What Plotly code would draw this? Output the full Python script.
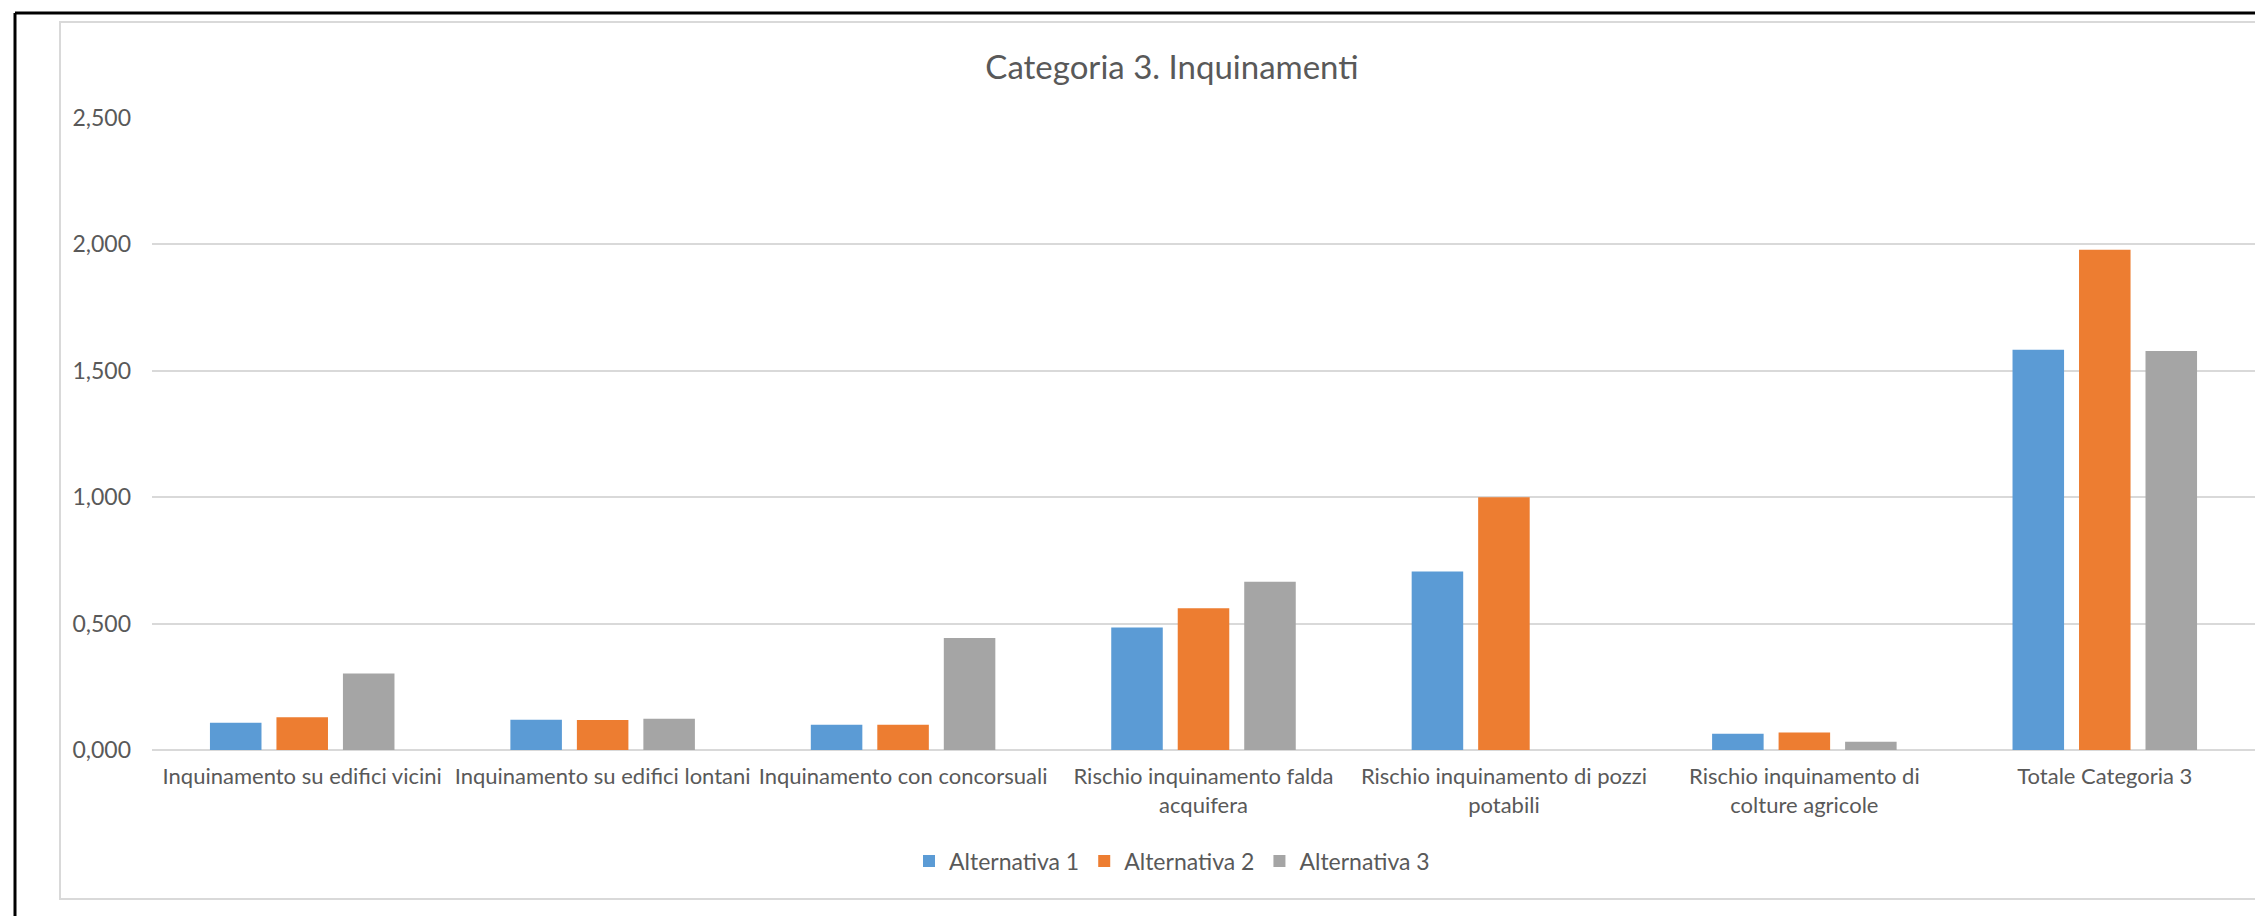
import plotly.graph_objects as go

categories = [
    "Inquinamento su edifici vicini",
    "Inquinamento su edifici lontani",
    "Inquinamento con concorsuali",
    "Rischio inquinamento falda<br>acquifera",
    "Rischio inquinamento di pozzi<br>potabili",
    "Rischio inquinamento di<br>colture agricole",
    "Totale Categoria 3",
]
series_names = ["Alternativa 1", "Alternativa 2", "Alternativa 3"]
alt1 = [0.108, 0.120, 0.100, 0.485, 0.706, 0.064, 1.583]
alt2 = [0.130, 0.119, 0.100, 0.561, 1.000, 0.069, 1.979]
alt3 = [0.303, 0.124, 0.443, 0.666, 0.000, 0.033, 1.578]
y_tickvals = [0, 0.5, 1.0, 1.5, 2.0, 2.5]
y_ticktext = ["0,000", "0,500", "1,000", "1,500", "2,000", "2,500"]
title_text = "Categoria 3. Inquinamenti"

colors = ["#5B9BD5", "#ED7D31", "#A5A5A5"]
FONT = "Lato, 'Open Sans', sans-serif"
TXT = "#595959"

W, H = 2255, 916
ML, MR, MT, MB = 152, 0, 118, 166
PW = W - ML - MR
PH = H - MT - MB


def px(x):
    return (x - ML) / PW


def py(y):
    return (H - MB - y) / PH


fig = go.Figure()
for name, vals, c in zip(series_names, [alt1, alt2, alt3], colors):
    fig.add_trace(go.Bar(name=name, x=categories, y=vals, marker_color=c,
                         marker_line_width=0))

shapes = [
    # chart area light border
    dict(type="rect", xref="paper", yref="paper",
         x0=px(60), x1=px(2300), y0=py(899), y1=py(22),
         line=dict(color="#D9D9D9", width=2), fillcolor="rgba(0,0,0,0)", layer="below"),
    # black outer border (top and left)
    dict(type="line", xref="paper", yref="paper",
         x0=px(15), x1=px(2300), y0=py(13), y1=py(13),
         line=dict(color="#000000", width=3)),
    dict(type="line", xref="paper", yref="paper",
         x0=px(15), x1=px(15), y0=py(13), y1=py(940),
         line=dict(color="#000000", width=3)),
]

fig.update_layout(
    width=W, height=H, autosize=False,
    margin=dict(l=ML, r=MR, t=MT, b=MB, pad=0),
    paper_bgcolor="white", plot_bgcolor="white",
    font=dict(family=FONT, size=22, color=TXT),
    barmode="group", bargap=0.336, bargroupgap=0.225,
    title=dict(text=title_text, x=px(1172), xref="paper", xanchor="center",
               y=1 - 67 / H, yref="container", yanchor="middle",
               font=dict(family=FONT, size=33, color=TXT)),
    legend=dict(orientation="h", x=px(1172), xanchor="center", xref="paper",
                y=py(861), yanchor="middle", yref="paper",
                font=dict(family=FONT, size=23, color=TXT),
                itemwidth=30, traceorder="normal"),
    shapes=shapes,
    showlegend=True,
)
fig.update_xaxes(showgrid=False, showline=False, zeroline=False, ticks="",
                 tickfont=dict(family=FONT, size=22, color=TXT),
                 ticklabelstandoff=11, tickangle=0)
fig.update_yaxes(range=[0, 2.5], tickvals=y_tickvals, ticktext=y_ticktext,
                 showgrid=True, gridcolor="#D9D9D9", gridwidth=2,
                 zeroline=True, zerolinecolor="#D9D9D9", zerolinewidth=2,
                 showline=False, ticks="", ticklabelstandoff=20,
                 tickfont=dict(family=FONT, size=23, color=TXT))

fig.write_html("out.html")
